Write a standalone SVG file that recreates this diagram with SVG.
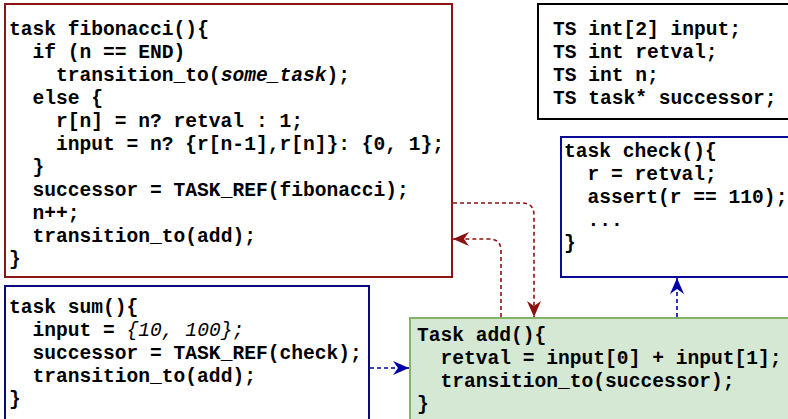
<svg xmlns="http://www.w3.org/2000/svg" width="788" height="419" viewBox="0 0 788 419">
<style>
text{font-family:"Liberation Mono","Courier New",monospace;font-weight:bold;font-size:19.6px;fill:#000;white-space:pre}
.it{font-style:italic}
.itn{font-style:italic;font-weight:normal}
.box{stroke-width:2}
.red{fill:none;stroke:#8c1111;stroke-width:1.6;stroke-dasharray:4 3}
.blue{fill:none;stroke:#0000a8;stroke-width:1.6;stroke-dasharray:4 3}
</style>
<defs>
<marker id="ar" viewBox="0 0 16 14" refX="16" refY="7" markerWidth="16" markerHeight="14" markerUnits="userSpaceOnUse" orient="auto">
<path d="M0,0 L16,7 L0,14 L5,7 z" fill="#8c1111"/>
</marker>
<marker id="ab" viewBox="0 0 16 14" refX="16" refY="7" markerWidth="16" markerHeight="14" markerUnits="userSpaceOnUse" orient="auto">
<path d="M0,0 L16,7 L0,14 L5,7 z" fill="#0000a8"/>
</marker>
</defs>
<rect width="788" height="419" fill="#fff"/>

<g id="fibonacci">
<rect class="box" x="5" y="4" width="447" height="273" fill="#fff" stroke="#8c1515"/>
<text x="9" y="35">task fibonacci(){</text>
<text x="32.5" y="58">if (n == END)</text>
<text x="56" y="81">transition_to(<tspan class="it">some_task</tspan>);</text>
<text x="32.5" y="104">else {</text>
<text x="56" y="127">r[n] = n? retval : 1;</text>
<text x="56" y="150">input = n? {r[n-1],r[n]}: {0, 1};</text>
<text x="32.5" y="173">}</text>
<text x="32.5" y="196">successor = TASK_REF(fibonacci);</text>
<text x="32.5" y="219">n++;</text>
<text x="32.5" y="242">transition_to(add);</text>
<text x="9" y="265">}</text>
</g>

<g id="ts">
<rect class="box" x="538" y="4" width="260" height="115" fill="#fff" stroke="#000"/>
<text x="553" y="35">TS int[2] input;</text>
<text x="553" y="58">TS int retval;</text>
<text x="553" y="81">TS int n;</text>
<text x="553" y="104">TS task* successor;</text>
</g>

<g id="check">
<rect class="box" x="561" y="137" width="240" height="140" fill="#fff" stroke="#0a0a96"/>
<text x="564" y="157">task check(){</text>
<text x="587.5" y="180">r = retval;</text>
<text x="587.5" y="203">assert(r == 110);</text>
<text x="587.5" y="226">...</text>
<text x="564" y="249">}</text>
</g>

<g id="sum">
<rect class="box" x="5" y="286" width="364" height="135" fill="#fff" stroke="#0a0a80"/>
<text x="9" y="313">task sum(){</text>
<text x="32.5" y="336">input = <tspan class="itn">{10, 100};</tspan></text>
<text x="32.5" y="359">successor = TASK_REF(check);</text>
<text x="32.5" y="382">transition_to(add);</text>
<text x="9" y="405">}</text>
</g>

<g id="add">
<rect class="box" x="410" y="318" width="390" height="103" fill="#d5e8d4" stroke="#82b366"/>
<text x="417" y="341">Task add(){</text>
<text x="440.5" y="364">retval = input[0] + input[1];</text>
<text x="440.5" y="387">transition_to(successor);</text>
<text x="417" y="410">}</text>
</g>

<g id="connectors">
<path class="red" d="M453,203 H522 Q534,203 534,215 V317" marker-end="url(#ar)"/>
<path class="red" d="M501,317 V251 Q501,239 489,239 H453" marker-end="url(#ar)"/>
<path class="blue" d="M370,368 H409" marker-end="url(#ab)"/>
<path class="blue" d="M677,317 V278" marker-end="url(#ab)"/>
</g>
</svg>
